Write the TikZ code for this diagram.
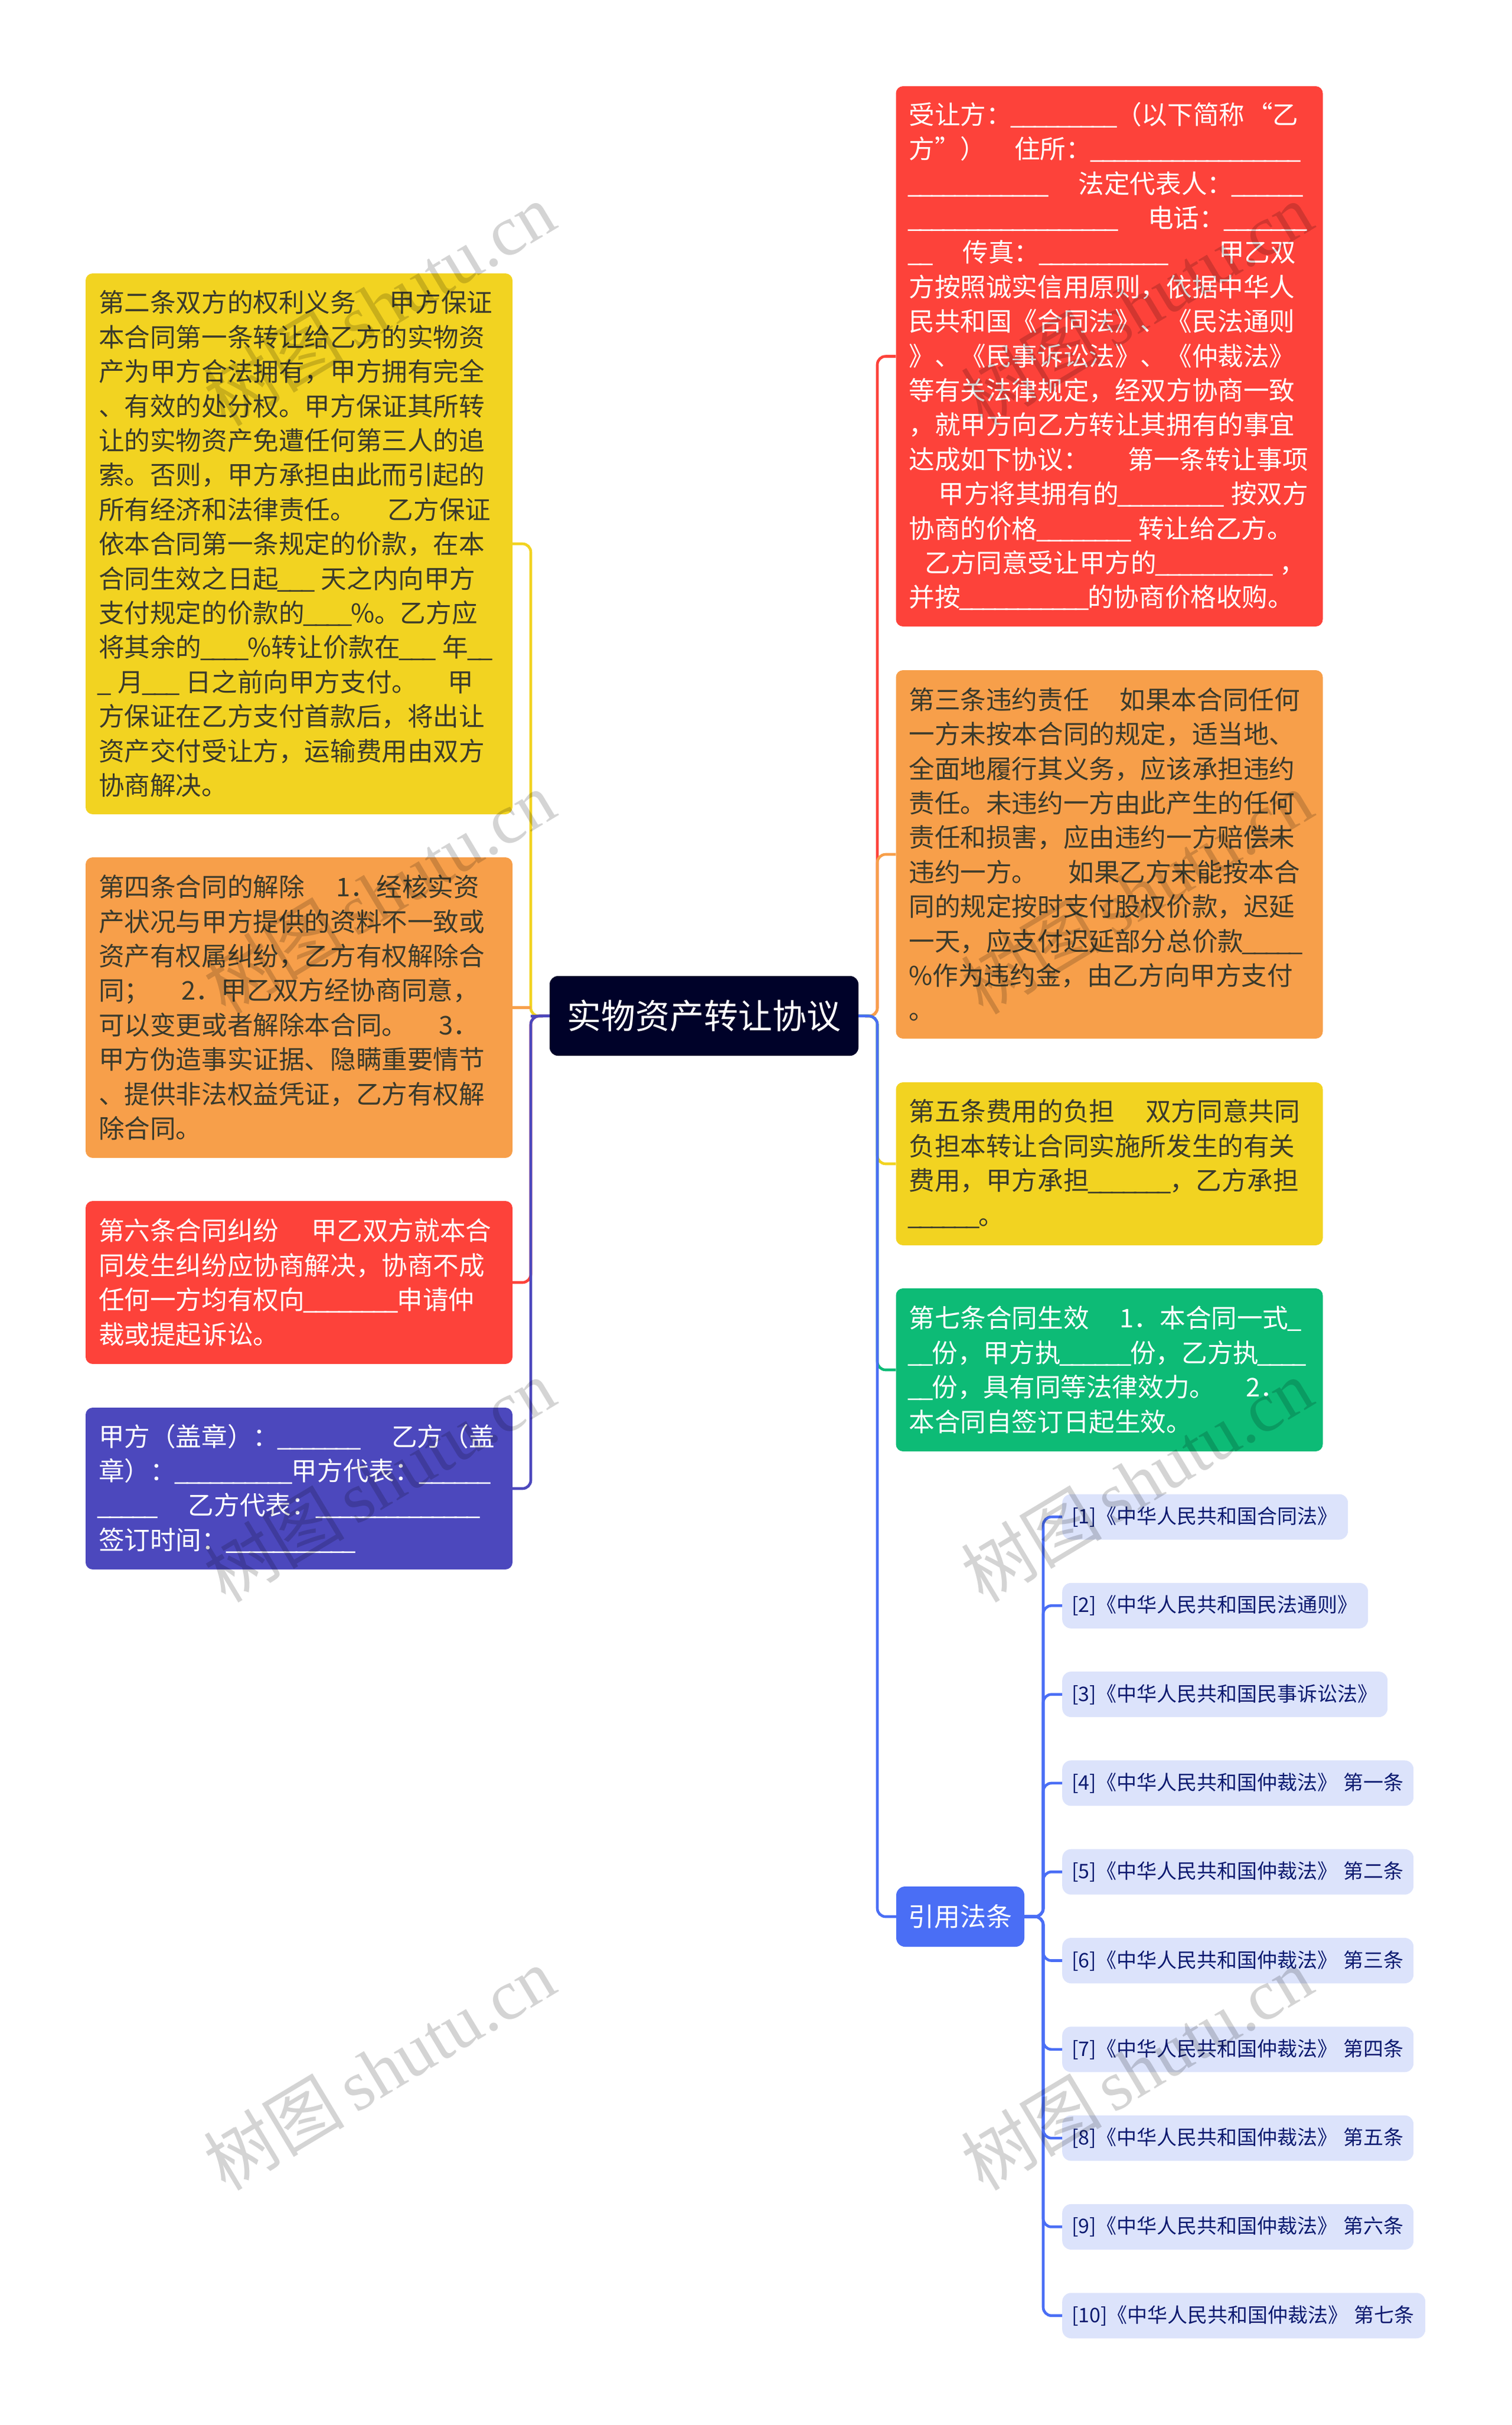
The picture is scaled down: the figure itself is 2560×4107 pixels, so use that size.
\documentclass[tikz,border=0pt]{standalone}
\usepackage{fontspec}
\setmainfont{Noto Sans CJK SC}
\newfontfamily\wmfont{Liberation Serif}
\usetikzlibrary{arrows,calc}
\definecolor{cnavy}{HTML}{000229}
\definecolor{cyel}{HTML}{F2D321}
\definecolor{cora}{HTML}{F79F4A}
\definecolor{cred}{HTML}{FD423A}
\definecolor{cind}{HTML}{4C48BD}
\definecolor{cgre}{HTML}{0DBB76}
\definecolor{cblu}{HTML}{4A6EF5}
\definecolor{cleaf}{HTML}{DCE3FB}
\definecolor{cleaftxt}{HTML}{0C1A70}
\definecolor{cdark}{HTML}{3A3A2C}
\newcommand{\kg}[1]{\leavevmode\hbox to #1pt{\hfil}}
\catcode`\_=\active
\def_{\leavevmode\hbox to 19.6pt{\hss\char95\hss}}
\tikzset{
  txtbox/.style={rounded corners=12pt,minimum width=723pt,text width=679pt,inner xsep=22pt,inner ysep=0pt,
    align=left,font=\fontsize{43.6}{58.4}\selectfont},
  leafbox/.style={rounded corners=15pt,minimum height=77pt,inner xsep=16pt,inner ysep=0pt,anchor=west,
    align=left,fill=cleaf,text=cleaftxt,font=\fontsize{34}{40}\selectfont},
  link/.style={line width=4.6pt,rounded corners=14pt}
}
\begin{document}
\begin{tikzpicture}[x=1pt,y=-1pt]
	\useasboundingbox (0,0) rectangle (2560,4107);
	% raiz
	\node[rounded corners=14pt,fill=cnavy,text=white,minimum width=523pt,minimum height=135pt,inner sep=0pt,
		font=\fontsize{58}{70}\selectfont] (root) at (1192.5,1720.5) {实物资产转让协议};
	\coordinate (ltrunk) at (899,1721);
	\coordinate (rtrunk) at (1486,1721);
	% esquerda
	\node[txtbox,fill=cyel,text=cdark,minimum height=916pt] (lyel) at (506.5,921) {第二条双方的权利义务\kg{57}甲方保证\\
		本合同第一条转让给乙方的实物资\\
		产为甲方合法拥有，甲方拥有完全\\
		、有效的处分权。甲方保证其所转\\
		让的实物资产免遭任何第三人的追\\
		索。否则，甲方承担由此而引起的\\
		所有经济和法律责任。\kg{54}乙方保证\\
		依本合同第一条规定的价款，在本\\
		合同生效之日起___\kg{13}天之内向甲方\\
		支付规定的价款的____\%。乙方应\\
		将其余的____\%转让价款在___\kg{13}年__\\
		_\kg{13}月___\kg{13}日之前向甲方支付。\kg{51}甲\\
		方保证在乙方支付首款后，将出让\\
		资产交付受让方，运输费用由双方\\
		协商解决。};
	\node[txtbox,fill=cora,text=cdark,minimum height=509pt] (lora) at (506.5,1706.5) {第四条合同的解除\kg{54}1．经核实资\\
		产状况与甲方提供的资料不一致或\\
		资产有权属纠纷，乙方有权解除合\\
		同；\kg{53}2．甲乙双方经协商同意，\\
		可以变更或者解除本合同。\kg{53}3．\\
		甲方伪造事实证据、隐瞒重要情节\\
		、提供非法权益凭证，乙方有权解\\
		除合同。};
	\node[txtbox,fill=cred,text=white,minimum height=276pt] (lred) at (506.5,2172) {第六条合同纠纷\kg{55}甲乙双方就本合\\
		同发生纠纷应协商解决，协商不成\\
		任何一方均有权向________申请仲\\
		裁或提起诉讼。};
	\node[txtbox,fill=cind,text=white,minimum height=274pt] (lind) at (506.5,2521) {甲方（盖章）：_______\kg{54}乙方（盖\\
		章）：__________甲方代表：______\\
		_____\kg{54}乙方代表：______________\\
		签订时间：___________};
	% direita
	\node[txtbox,fill=cred,text=white,minimum height=915pt] (rred) at (1879,603.5) {受让方：_________（以下简称\kg{4}“乙\\
		方”）\kg{48}住所：__________________\\
		____________\kg{52}法定代表人：______\\
		__________________\kg{52}电话：_______\\
		__\kg{52}传真：___________\kg{87}甲乙双\\
		方按照诚实信用原则，依据中华人\\
		民共和国《合同法》、《民法通则\\
		》、《民事诉讼法》、《仲裁法》\\
		等有关法律规定，经双方协商一致\\
		，就甲方向乙方转让其拥有的事宜\\
		达成如下协议：\kg{66}第一条转让事项\\
		\kg{50}甲方将其拥有的_________\kg{14}按双方\\
		协商的价格________\kg{14}转让给乙方。\\
		\kg{27}乙方同意受让甲方的__________\kg{13}，\\
		并按___________的协商价格收购。};
	\node[txtbox,fill=cora,text=cdark,minimum height=624pt] (rora) at (1879,1447) {第三条违约责任\kg{52}如果本合同任何\\
		一方未按本合同的规定，适当地、\\
		全面地履行其义务，应该承担违约\\
		责任。未违约一方由此产生的任何\\
		责任和损害，应由违约一方赔偿未\\
		违约一方。\kg{52}如果乙方未能按本合\\
		同的规定按时支付股权价款，迟延\\
		一天，应支付迟延部分总价款_____\\
		\%作为违约金，由乙方向甲方支付\\
		。};
	\node[txtbox,fill=cyel,text=cdark,minimum height=276pt] (ryel) at (1879,1971) {第五条费用的负担\kg{52}双方同意共同\\
		负担本转让合同实施所发生的有关\\
		费用，甲方承担_______，乙方承担\\
		______。};
	\node[txtbox,fill=cgre,text=white,minimum height=276pt] (rgre) at (1879,2320) {第七条合同生效\kg{52}1．本合同一式_\\
		__份，甲方执______份，乙方执____\\
		__份，具有同等法律效力。\kg{52}2．\\
		本合同自签订日起生效。};
	\node[rounded corners=15pt,fill=cblu,text=white,minimum width=217pt,minimum height=102pt,inner sep=0pt,
		font=\fontsize{44}{52}\selectfont] (law) at (1626.5,3246) {引用法条};
	\coordinate (ftrunk) at (1767,3246);
	% folhas
	\foreach \i/\w/\t in {1/484/{[1]《中华人民共和国合同法》},2/518/{[2]《中华人民共和国民法通则》},
		3/551/{[3]《中华人民共和国民事诉讼法》},4/595/{[4]《中华人民共和国仲裁法》\kg{10}第一条},
		5/595/{[5]《中华人民共和国仲裁法》\kg{10}第二条},6/595/{[6]《中华人民共和国仲裁法》\kg{10}第三条},
		7/595/{[7]《中华人民共和国仲裁法》\kg{10}第四条},8/595/{[8]《中华人民共和国仲裁法》\kg{10}第五条},
		9/595/{[9]《中华人民共和国仲裁法》\kg{10}第六条},10/615/{[10]《中华人民共和国仲裁法》\kg{10}第七条}}
		\node[leafbox,text width={(\w-32)*1pt}] (leaf\i) at (1799,{2569+(\i-1)*150.3}) {\t};
	% ligacoes
	\foreach \n/\c in {lyel/cyel,lred/cred,lind/cind}
		\draw[link,draw=\c] (root.west) -- (ltrunk) |- (\n.east);
	\draw[line width=4.6pt,draw=cora] (lora.east) -- (ltrunk |- lora.east);
	\draw[line width=4.6pt,draw=cind] (root.west) -- (ltrunk);
	\foreach \n/\c in {rred/cred,rora/cora,ryel/cyel,rgre/cgre,law/cblu}
		\draw[link,draw=\c] (root.east) -- (rtrunk) |- (\n.west);
	\foreach \i in {1,...,10}
		\draw[link,draw=cblu] (law.east) -- (ftrunk) |- (leaf\i.west);
	% marca
	\foreach \x in {642,1925}
		\foreach \y in {515,1511,2507,3503}
			\node[rotate=31,text=black,text opacity=.17,inner sep=0pt,font=\fontsize{120}{128}\selectfont] (wm\x-\y) at (\x,\y) {树图\kg{18}{\wmfont shutu.cn}};
\end{tikzpicture}
\end{document}
